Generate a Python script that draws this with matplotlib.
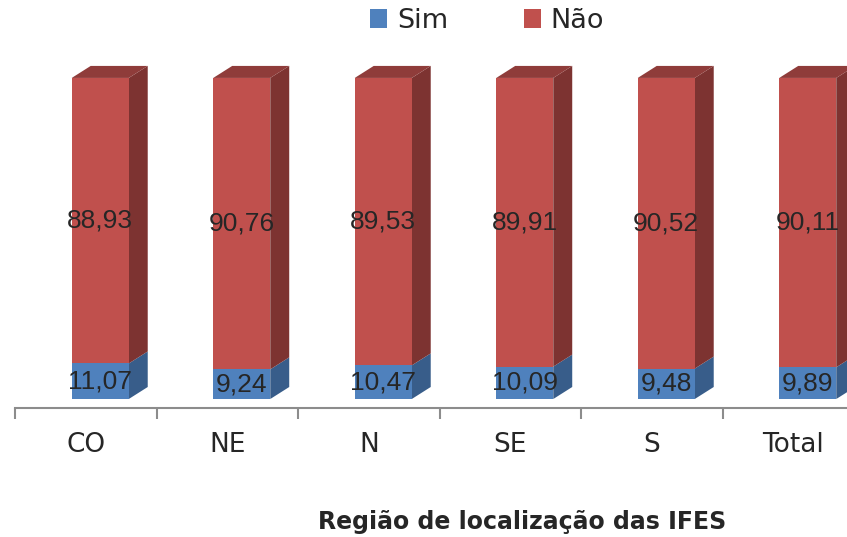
import numpy as np
import matplotlib
matplotlib.use("Agg")
import matplotlib.pyplot as plt
from matplotlib.patches import Rectangle, Polygon

# data
regioes = ["CO", "NE", "N", "SE", "S", "Total"]
sim = [11.07, 9.24, 10.47, 10.09, 9.48, 9.89]
nao = [88.93, 90.76, 89.53, 89.91, 90.52, 90.11]

# colours (front, side, top)
azul = ("#4F81BD", "#385D8A", "#3E6797")
verm = ("#C0504D", "#7D3331", "#8F3C3A")

fig = plt.figure(figsize=(8.47, 5.37), dpi=100)
# axes spans 15px .. 864px wide (cut off at right like the original), axis line at 408px
ax = fig.add_axes([15 / 847, (537 - 408) / 537, 849 / 847, 358 / 537])
ax.set_xlim(-0.5, 5.5)
ax.set_ylim(-2.8, 108.7)

larg = 0.403      # bar width
desl = 0.1025     # shift of bar front relative to category centre
dx, dy = 0.134, 3.74   # depth of 3d effect


def bloco(x0, y0, y1, cores, topo):
    x1 = x0 + larg
    ax.add_patch(Rectangle((x0, y0), larg, y1 - y0, fc=cores[0], ec="none", zorder=3))
    ax.add_patch(Polygon([(x1, y0), (x1 + dx, y0 + dy), (x1 + dx, y1 + dy), (x1, y1)],
                         closed=True, fc=cores[1], ec="none", zorder=2))
    if topo:
        ax.add_patch(Polygon([(x0, y1), (x0 + dx, y1 + dy), (x1 + dx, y1 + dy), (x1, y1)],
                             closed=True, fc=cores[2], ec="none", zorder=2))


x = np.arange(len(regioes))
for i in x:
    x0 = i + desl - larg / 2
    bloco(x0, 0, sim[i], azul, False)
    bloco(x0, sim[i], sim[i] + nao[i], verm, True)
    lab = dict(ha="center", va="center", fontsize=19, color="#262626",
               family="Liberation Sans", zorder=5)
    ax.text(i + desl, sim[i] / 2, f"{sim[i]:.2f}".replace(".", ","), **lab)
    ax.text(i + desl, sim[i] + nao[i] / 2, f"{nao[i]:.2f}".replace(".", ","), **lab)

# axis
for s in ["top", "right", "left"]:
    ax.spines[s].set_visible(False)
ax.spines["bottom"].set_color("#8C8C8C")
ax.spines["bottom"].set_linewidth(1.5)
ax.set_yticks([])
ax.set_xticks(x)
ax.set_xticklabels(regioes, fontsize=19, color="#262626")
ax.tick_params(axis="x", which="major", length=0, pad=17)
ax.set_xticks(np.arange(-0.5, 6, 1), minor=True)
ax.tick_params(axis="x", which="minor", length=8, width=1.5, color="#8C8C8C", direction="out")

# legend
h = [Rectangle((0, 0), 1, 1, fc=azul[0]), Rectangle((0, 0), 1, 1, fc=verm[0])]
fig.legend(h, ["Sim", "Não"], loc="center", bbox_to_anchor=(487 / 847, 1 - 21 / 537),
           ncol=2, frameon=False, fontsize=19.5, handlelength=0.65, handleheight=0.65,
           handletextpad=0.35, columnspacing=2.8, labelcolor="#262626")

fig.text(522 / 847, 1 - 522 / 537, "Região de localização das IFES", ha="center", va="center",
         fontsize=17, fontweight="bold", color="#262626")

fig.savefig("out.png", dpi=100)
